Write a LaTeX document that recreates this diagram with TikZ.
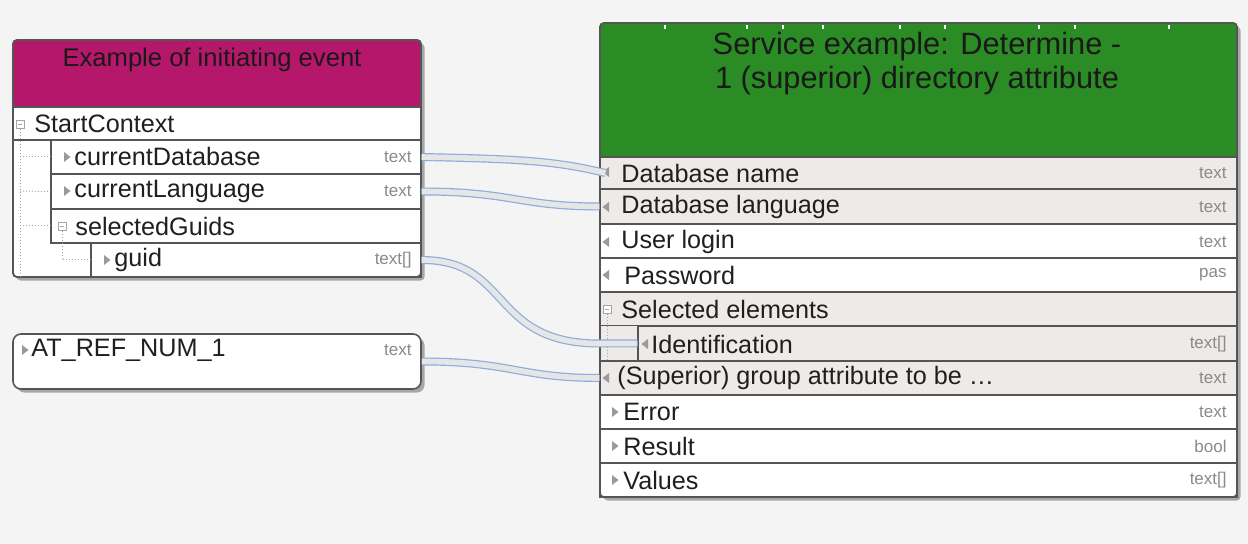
\documentclass[tikz,border=0pt]{standalone}
\usepackage{fontspec}
\setmainfont{Liberation Sans}
\usetikzlibrary{fit,calc,shadows}
\definecolor{bg}{HTML}{F4F4F4}
\definecolor{mag}{HTML}{B5186B}
\definecolor{grn}{HTML}{2B8B24}
\definecolor{beige}{HTML}{EEEAE7}
\definecolor{bord}{HTML}{555555}
\definecolor{pipec}{HTML}{8CACDD}
\definecolor{pipein}{HTML}{E6E6E6}
\definecolor{typc}{HTML}{8A8A8A}
\definecolor{tric}{HTML}{9A9A9A}
\tikzset{
  outerbox/.style={draw=bord, line width=0.8pt, fill=white, rounded corners=2pt,
    drop shadow={shadow xshift=1.8pt, shadow yshift=-1.8pt, opacity=0.5, fill=black!65}},
  rowbox/.style={inner sep=0pt, draw=bord, line width=0.7pt},
  lbl/.style={anchor=west, inner sep=0pt, font=\fontsize{12.6}{14}\selectfont, text=black!88},
  typ/.style={anchor=east, inner sep=0pt, font=\fontsize{8.5}{10}\selectfont, text=typc},
  ttl/.style={inner sep=0pt, align=center, text=black!90},
  tree/.style={draw=gray!70, densely dotted, line width=0.5pt},
  pipe/.style={draw=pipec, line width=0.6pt, double=pipein, double distance=2.8pt},
}
\newcommand\rtri[1]{\fill[tric] (#1) ++(-3,-5) -- ++(0,10) -- ++(6.5,-5) -- cycle;}
\newcommand\ltri[1]{\fill[tric] (#1) ++(3,-5) -- ++(0,10) -- ++(-6.5,-5) -- cycle;}
\newcommand\collapseicon[1]{\draw[gray!70, line width=0.4pt, fill=white] (#1) ++(-4,-4) rectangle ++(8,8); \draw[gray!70, line width=0.4pt] (#1) ++(-2.2,0) -- ++(4.4,0);}
\begin{document}
\begin{tikzpicture}[x=0.5pt, y=-0.5pt]
\fill[bg] (0,0) rectangle (1248,544);
\useasboundingbox (0,0) rectangle (1248,544);

%% ---------- left box 1 ----------
\path[outerbox] (13,40) rectangle (421,277);
\begin{scope}
  \clip[rounded corners=2pt] (13,40) rectangle (421,277);
  \fill[mag] (13,40) rectangle (421,107);
\end{scope}
\node[ttl, font=\fontsize{12.8}{15}\selectfont] (evT) at (212,60) {Example of initiating event};
\node[rowbox, fit={(13,107)(421,140)}] (sc) {};
\node[rowbox, fit={(51,140)(421,174)}] (cdb) {};
\node[rowbox, fit={(51,174)(421,209)}] (clg) {};
\node[rowbox, fit={(51,209)(421,243)}] (sg) {};
\node[rowbox, fit={(91,243)(421,277)}] (gd) {};
\draw[bord, line width=0.8pt, rounded corners=2pt] (13,40) rectangle (421,277);
% tree lines
\draw[tree] (20,129) -- (20,277);
\draw[tree] (20,157) -- (cdb.west);
\draw[tree] (20,191) -- (clg.west);
\draw[tree] (20,226) -- (sg.west);
\draw[tree] (62,231) -- (62,260) -- (gd.west);
\collapseicon{20,124}
\collapseicon{62,226}
\rtri{67,157}
\rtri{67,191}
\rtri{107,260}
\node[lbl] (scT) at (34,124) {StartContext};
\node[lbl] (cdbT) at (74,157) {currentDatabase};
\node[lbl] (clgT) at (74,191) {currentLanguage};
\node[lbl] (sgT) at (75,226) {selectedGuids};
\node[lbl] (gdT) at (114,260) {guid};
\node[typ] (cdbY) at (412,157) {text};
\node[typ] (clgY) at (412,191) {text};
\node[typ] (gdY) at (412,260) {text[]};

%% ---------- left box 2 ----------
\node[outerbox, inner sep=0pt, fit={(13,334)(421,389)}, rounded corners=4pt] (ar) {};
\rtri{25,350}
\node[lbl] (arT) at (31,350) {AT\_REF\_NUM\_1};
\node[typ] (arY) at (412,350) {text};

%% ---------- right box ----------
\path[outerbox] (600,23) rectangle (1237,497);
\begin{scope}
  \clip[rounded corners=2pt] (600,23) rectangle (1237,497);
  \fill[grn] (600,23) rectangle (1237,157);
\end{scope}
\draw[bord, line width=0.8pt, rounded corners=2pt] (600,23) rectangle (1237,497);
\foreach \tx in {665,747,783,823,900,945,1039,1075,1169}
  \draw[white, line width=0.6pt] (\tx,25) -- (\tx,29);
\node[ttl, font=\fontsize{15.4}{16.5}\selectfont] (svT) at (917,64)
  {Service example: Determine -\\[0.5pt]1 (superior) directory attribute};
\node[rowbox, fill=beige, fit={(600,157)(1237,189)}] (dbn) {};
\node[rowbox, fill=beige, fit={(600,189)(1237,224)}] (dbl) {};
\node[rowbox, fill=white, fit={(600,224)(1237,258)}] (ul) {};
\node[rowbox, fill=white, fit={(600,258)(1237,292)}] (pw) {};
\node[rowbox, fill=beige, fit={(600,292)(1237,326)}] (se) {};
\fill[beige] (601,326) rectangle (638,361);
\node[rowbox, fill=beige, fit={(638,326)(1237,361)}] (id) {};
\node[rowbox, fill=beige, fit={(600,361)(1237,395)}] (sup) {};
\node[rowbox, fill=white, fit={(600,395)(1237,429)}] (er) {};
\node[rowbox, fill=white, fit={(600,429)(1237,463)}] (rs) {};
\node[rowbox, fill=white, fit={(600,463)(1237,497)}] (vl) {};
\draw[bord, line width=0.8pt, rounded corners=2pt] (600,157) -- (600,497) -- (1237,497) -- (1237,157);
\draw[tree] (607,314) -- (607,360);
\collapseicon{607,309}
\ltri{606,172}
\ltri{606,207}
\ltri{606,242}
\ltri{606,275}
\ltri{645,344}
\ltri{606,378}
\rtri{615,412}
\rtri{615,446}
\rtri{615,480}
\node[lbl] (dbnT) at (621,173) {Database name};
\node[lbl] (dblT) at (621,207) {Database language};
\node[lbl] (ulT) at (621,242) {User login};
\node[lbl] (pwT) at (624,275) {Password};
\node[lbl] (seT) at (621,309) {Selected elements};
\node[lbl] (idT) at (651,344) {Identification};
\node[lbl] (supT) at (617,378) {(Superior) group attribute to be \dots};
\node[lbl] (erT) at (623,412) {Error};
\node[lbl] (rsT) at (623,446) {Result};
\node[lbl] (vlT) at (623,480) {Values};
\node[typ] at (1227,173) {text};
\node[typ] at (1227,207) {text};
\node[typ] at (1227,242) {text};
\node[typ] at (1227,275) {pas};
\node[typ] at (1227,344) {text[]};
\node[typ] at (1227,378) {text};
\node[typ] at (1227,412) {text};
\node[typ] at (1227,446) {bool};
\node[typ] at (1227,480) {text[]};

%% ---------- connectors ----------
\coordinate (dbnE) at ($(dbn.west)+(6,0)$);
\coordinate (idE) at ($(id.west)+(-38,0)$);
\draw[pipe] (cdb.east) .. controls +(100,2) and +(-50,-12) .. (dbnE);
\draw[pipe] (clg.east) .. controls +(90,0) and +(-80,0) .. (dbl.west);
\draw[pipe] (gd.east) .. controls +(90,0) and +(-110,0) .. (idE) -- (id.west);
\draw[pipe] (ar.east) .. controls +(90,0) and +(-80,0) .. (sup.west);
\end{tikzpicture}
\end{document}
